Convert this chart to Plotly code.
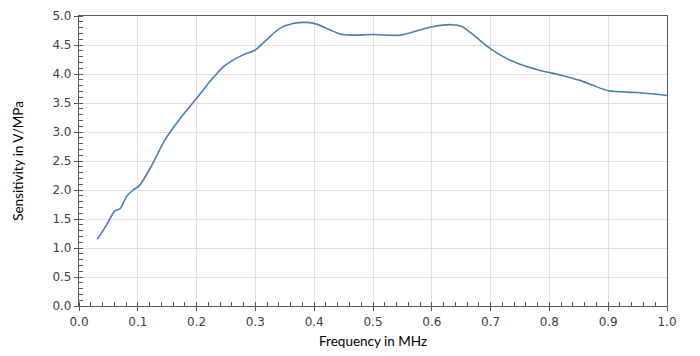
import plotly.graph_objects as go

freq_mhz = [0.031, 0.047, 0.061, 0.070, 0.081, 0.092, 0.103, 0.124, 0.146,
            0.175, 0.2, 0.225, 0.245, 0.257, 0.279, 0.299, 0.319, 0.342, 0.364, 0.387,
            0.404, 0.427, 0.444, 0.461, 0.5, 0.546, 0.580, 0.603, 0.634, 0.651, 0.671,
            0.688, 0.702, 0.727, 0.750, 0.781, 0.82, 0.852, 0.875, 0.901, 0.95, 1.0]
sensitivity = [1.15, 1.40, 1.64, 1.68, 1.89, 2.00, 2.08, 2.43, 2.86,
               3.27, 3.58, 3.90, 4.12, 4.21, 4.33, 4.41, 4.59, 4.79, 4.87, 4.89,
               4.86, 4.76, 4.69, 4.67, 4.68, 4.67, 4.76, 4.82, 4.85, 4.82, 4.67,
               4.53, 4.42, 4.27, 4.17, 4.07, 3.98, 3.89, 3.80, 3.71, 3.68, 3.63]

x_ticks = [round(i * 0.1, 1) for i in range(11)]
y_ticks = [round(i * 0.5, 1) for i in range(11)]

fig = go.Figure()
fig.add_trace(go.Scatter(
    x=freq_mhz, y=sensitivity, mode="lines",
    line=dict(color="#4a7ebb", width=1.6, shape="spline", smoothing=0.8),
    showlegend=False,
))

tickfont = dict(family="DejaVu Sans", size=12, color="#404040")
titlefont = dict(family="Lato", size=13.5, color="#000000")

fig.update_layout(
    width=684, height=340,
    margin=dict(l=71, r=25, t=8, b=42, autoexpand=False),
    paper_bgcolor="white", plot_bgcolor="white",
    xaxis=dict(
        range=[0, 1.0], tickvals=x_ticks, ticktext=[f"{v:.1f}" for v in x_ticks],
        showgrid=True, gridcolor="#e0e0e0", gridwidth=1,
        showline=True, linecolor="#595959", linewidth=1.2, mirror=True,
        ticks="outside", ticklen=4, tickcolor="#595959",
        minor=dict(dtick=0.02, ticks="inside", ticklen=4, tickcolor="#595959", showgrid=False),
        tickfont=tickfont, automargin=False,
        zeroline=False,
    ),
    yaxis=dict(
        range=[0, 5.0], tickvals=y_ticks, ticktext=[f"{v:.1f}" for v in y_ticks],
        showgrid=True, gridcolor="#e0e0e0", gridwidth=1,
        showline=True, linecolor="#595959", linewidth=1.2, mirror=True,
        ticks="outside", ticklen=4, tickcolor="#595959",
        minor=dict(dtick=0.1, ticks="inside", ticklen=4, tickcolor="#595959", showgrid=False),
        tickfont=tickfont, automargin=False,
        zeroline=False,
    ),
    annotations=[
        dict(text="Frequency in MHz", xref="paper", yref="paper", x=0.5, y=-0.086,
             xanchor="center", yanchor="top", showarrow=False, font=titlefont),
        dict(text="Sensitivity in V/MPa", xref="paper", yref="paper", x=-0.104, y=0.5,
             xanchor="center", yanchor="middle", textangle=-90, showarrow=False, font=titlefont),
    ],
)

fig.write_html("out.html")
